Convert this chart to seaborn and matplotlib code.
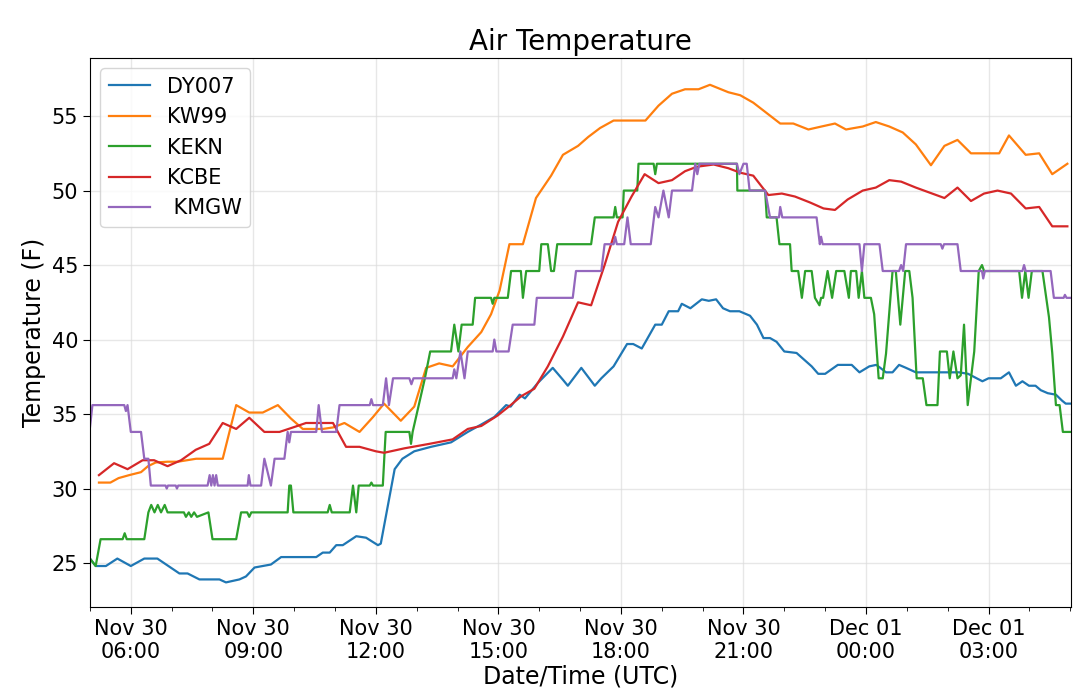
import pandas as pd
import numpy as np
import matplotlib
matplotlib.use("Agg")
import matplotlib.pyplot as plt
import matplotlib.dates as mdates
import seaborn as sns

# hours since Nov 30 00:00 UTC, temperature in F
dy007_hours = [5.0, 5.14, 5.39, 5.67, 6.0, 6.33, 6.65, 7.19, 7.39, 7.68, 8.17, 8.33, 8.66, 8.82,
               9.03, 9.23, 9.43, 9.68, 10.54, 10.70, 10.87, 11.03, 11.19, 11.52, 11.76, 12.05,
               12.12, 12.46, 12.65, 12.94, 13.35, 13.84, 14.25, 14.58, 14.9, 15.19, 15.3, 15.52,
               15.65, 15.97, 16.33, 16.58, 16.70, 17.03, 17.36, 17.52, 17.82, 18.15, 18.3,
               18.51, 18.84, 19.0, 19.17, 19.4, 19.49, 19.7, 19.98, 20.15, 20.33, 20.5, 20.67,
               20.9, 21.16, 21.33, 21.49, 21.65, 21.81, 22.0, 22.30, 22.67, 22.83, 23.0, 23.31,
               23.65, 23.84, 24.08, 24.25, 24.35, 24.49, 24.65, 24.81, 24.98, 25.22, 26.28,
               26.5, 26.85, 27.0, 27.30, 27.5, 27.67, 27.83, 27.99, 28.15, 28.28, 28.45, 28.65,
               28.8, 28.89, 29.02]
dy007_temp = [25.3, 24.8, 24.8, 25.3, 24.8, 25.3, 25.3, 24.3, 24.3, 23.9, 23.9, 23.7, 23.9, 24.1,
              24.7, 24.8, 24.9, 25.4, 25.4, 25.7, 25.7, 26.2, 26.2, 26.8, 26.7, 26.2,
              26.3, 31.3, 32.0, 32.5, 32.8, 33.1, 33.8, 34.3, 34.8, 35.6, 35.5, 36.3,
              36.05, 37.1, 38.1, 37.3, 36.9, 38.1, 36.9, 37.4, 38.2, 39.7, 39.7,
              39.4, 41.0, 41.0, 41.9, 41.9, 42.4, 42.1, 42.7, 42.6, 42.7, 42.1, 41.9,
              41.9, 41.6, 41.0, 40.1, 40.1, 39.85, 39.2, 39.1, 38.2, 37.7, 37.7, 38.3,
              38.3, 37.8, 38.2, 38.3, 38.1, 37.8, 37.8, 38.3, 38.1, 37.8, 37.8,
              37.7, 37.2, 37.4, 37.4, 37.8, 36.9, 37.2, 36.9, 36.9, 36.6, 36.4, 36.3,
              35.9, 35.7, 35.7]

kw99_hours = [5.22, 5.5, 5.7, 5.96, 6.25, 6.42, 6.61, 6.9, 7.15, 7.6, 8.25, 8.58, 8.9, 9.23,
              9.6, 9.92, 10.21, 10.7, 10.95, 11.23, 11.6, 11.93, 12.2, 12.61, 12.94, 13.23,
              13.55, 13.88, 14.25, 14.58, 14.82, 15.03, 15.27, 15.6, 15.92, 16.29, 16.58,
              16.95, 17.2, 17.49, 17.82, 18.6, 18.92, 19.25, 19.57, 19.9, 20.18, 20.63,
              20.92, 21.24, 21.57, 21.9, 22.22, 22.59, 22.91, 23.24, 23.51, 23.92, 24.24,
              24.57, 24.9, 25.22, 25.59, 25.92, 26.24, 26.57, 27.26, 27.5, 27.91, 28.24,
              28.56, 28.93]
kw99_temp = [30.4, 30.4, 30.7, 30.9, 31.1, 31.5, 31.75, 31.8, 31.8, 32.0, 32.0, 35.6, 35.1, 35.1,
             35.6, 34.7, 34.0, 34.0, 34.1, 34.4, 33.8, 34.8, 35.7, 34.55, 35.5, 38.1,
             38.4, 38.2, 39.5, 40.5, 41.7, 43.3, 46.4, 46.4, 49.5, 51.0, 52.4,
             53.0, 53.6, 54.2, 54.7, 54.7, 55.7, 56.5, 56.8, 56.8, 57.1, 56.6,
             56.4, 55.9, 55.2, 54.5, 54.5, 54.1, 54.3, 54.5, 54.1, 54.3, 54.6,
             54.3, 53.9, 53.1, 51.7, 53.0, 53.4, 52.5, 52.5, 53.7, 52.4, 52.5,
             51.1, 51.8]

kekn_hours = [5.0, 5.14, 5.26, 5.8, 5.85, 5.9, 6.33, 6.43, 6.5, 6.58, 6.66, 6.74, 6.83, 6.9,
              7.3, 7.35, 7.42, 7.48, 7.55, 7.62, 7.9, 8.0, 8.58, 8.7, 8.85, 8.9, 8.95, 9.84,
              9.88, 9.92, 9.98, 10.82, 10.87, 10.92, 11.36, 11.44, 11.52, 11.58, 11.85, 11.89,
              11.93, 12.17, 12.24, 12.82, 12.86, 12.9, 13.05, 13.2, 13.33, 13.84, 13.92,
              14.02, 14.1, 14.37, 14.43, 14.82, 14.86, 14.9, 15.23, 15.31, 15.55, 15.6,
              15.68, 16.0, 16.05, 16.21, 16.29, 16.36, 16.44, 17.27, 17.36, 17.82, 17.86,
              17.9, 18.04, 18.07, 18.4, 18.43, 18.8, 18.84, 18.88, 20.84, 20.85, 21.53, 21.57,
              21.81, 21.88, 22.14, 22.18, 22.34, 22.43, 22.51, 22.67, 22.75, 22.86, 22.9,
              22.95, 23.06, 23.17, 23.27, 23.47, 23.58, 23.63, 23.76, 23.82, 23.9, 23.96,
              24.12, 24.2, 24.31, 24.41, 24.49, 24.65, 24.73, 24.84, 24.96, 25.06, 25.14,
              25.24, 25.39, 25.48, 25.75, 25.81, 25.98, 26.05, 26.14, 26.24, 26.32, 26.4,
              26.49, 26.65, 26.76, 26.84, 26.89, 27.75, 27.82, 27.9, 27.98, 28.06, 28.32,
              28.48, 28.56, 28.65, 28.74, 28.82, 29.02]
kekn_temp = [25.3, 24.8, 26.6, 26.6, 27.0, 26.6, 26.6, 28.4, 28.9, 28.4, 28.9, 28.4, 28.9, 28.4,
             28.4, 28.1, 28.4, 28.1, 28.4, 28.1, 28.4, 26.6, 26.6, 28.4, 28.4, 28.1, 28.4, 28.4,
             30.2, 30.2, 28.4, 28.4, 28.9, 28.4, 28.4, 30.2, 28.4, 30.2, 30.2, 30.4,
             30.2, 30.2, 33.8, 33.8, 33.0, 33.8, 35.6, 37.4, 39.2, 39.2, 41.0,
             39.2, 41.0, 41.0, 42.8, 42.8, 42.4, 42.8, 42.8, 44.6, 44.6, 42.8,
             44.6, 44.6, 46.4, 46.4, 44.6, 44.6, 46.4, 46.4, 48.2, 48.2, 48.9,
             48.2, 48.2, 50.0, 50.0, 51.8, 51.8, 51.1, 51.8, 51.8, 50.0, 50.0, 48.2,
             48.2, 46.4, 46.4, 44.6, 44.6, 42.8, 44.6, 44.6, 42.8, 42.3, 42.8,
             42.8, 44.6, 42.8, 44.6, 44.6, 42.8, 44.6, 44.6, 42.8, 44.6, 42.8,
             42.8, 41.7, 37.4, 37.4, 39.05, 44.6, 44.6, 41.0, 44.6, 44.6, 42.8,
             37.4, 37.4, 35.6, 35.6, 39.2, 39.2, 37.4, 39.2, 37.4, 37.6, 41.0,
             35.6, 39.2, 44.6, 45.0, 44.6, 44.6, 42.8, 44.6, 42.8, 44.6, 44.6,
             41.5, 39.1, 35.6, 35.6, 33.8, 33.8]

kcbe_hours = [5.22, 5.59, 5.92, 6.29, 6.57, 6.9, 7.23, 7.59, 7.92, 8.25, 8.58, 8.9, 9.27, 9.64,
              9.97, 10.29, 10.95, 11.27, 11.6, 12.0, 12.2, 12.7, 13.31, 13.88, 14.25, 14.58,
              14.98, 15.3, 15.56, 15.88, 16.21, 16.58, 16.95, 17.27, 17.6, 17.93, 18.26,
              18.58, 18.92, 19.25, 19.57, 19.86, 20.27, 20.63, 20.92, 21.24, 21.41, 21.61,
              21.94, 22.26, 22.63, 22.96, 23.24, 23.55, 23.92, 24.24, 24.57, 24.86, 25.22,
              25.92, 26.24, 26.57, 26.89, 27.22, 27.55, 27.91, 28.24, 28.56, 28.93]
kcbe_temp = [30.9, 31.7, 31.3, 31.9, 31.9, 31.5, 31.9, 32.6, 33.0, 34.4, 34.0, 34.75, 33.8, 33.8,
             34.1, 34.4, 34.4, 32.8, 32.8, 32.5, 32.4, 32.7, 33.0, 33.3, 34.0, 34.2,
             34.9, 35.6, 36.2, 36.7, 38.2, 40.2, 42.5, 42.3, 45.0, 47.9, 49.6,
             51.1, 50.5, 50.7, 51.3, 51.6, 51.75, 51.5, 51.2, 51.0, 50.4, 49.7,
             49.8, 49.6, 49.2, 48.8, 48.7, 49.4, 50.0, 50.2, 50.7, 50.6, 50.2,
             49.5, 50.2, 49.3, 49.8, 50.0, 49.8, 48.8, 48.9, 47.6, 47.6]

kmgw_hours = [5.0, 5.06, 5.84, 5.88, 5.92, 6.0, 6.25, 6.33, 6.43, 6.49, 6.85, 6.88, 6.91, 7.1,
              7.13, 7.16, 7.88, 7.93, 7.97, 8.01, 8.05, 8.09, 8.13, 8.86, 8.89, 8.93, 9.19,
              9.27, 9.43, 9.52, 9.76, 9.84, 9.88, 9.92, 10.54, 10.6, 10.68, 11.03, 11.11,
              11.85, 11.89, 11.93, 12.17, 12.25, 12.32, 12.42, 12.82, 12.87, 12.92, 13.88,
              13.92, 13.97, 14.07, 14.17, 14.25, 14.86, 14.9, 14.95, 15.25, 15.35, 15.88,
              15.94, 16.82, 16.9, 17.52, 17.6, 17.82, 17.86, 17.9, 18.08, 18.16, 18.24,
              18.73, 18.84, 18.92, 19.04, 19.17, 19.25, 19.74, 19.82, 19.87, 19.92, 20.84,
              20.9, 21.0, 21.08, 21.15, 21.53, 21.65, 21.87, 21.9, 21.95, 22.79, 22.87,
              22.9, 22.94, 23.84, 23.9, 23.96, 24.33, 24.41, 24.81, 24.86, 24.91, 24.98,
              25.83, 25.87, 25.91, 26.24, 26.32, 26.84, 26.87, 26.91, 27.83, 27.87, 27.91,
              28.52, 28.6, 28.84, 28.87, 28.91, 29.02]
kmgw_temp = [34.1, 35.6, 35.6, 35.2, 35.6, 33.8, 33.8, 32.0, 32.0, 30.2, 30.2, 30.0, 30.2, 30.2,
             30.0, 30.2, 30.2, 30.9, 30.2, 30.9, 30.2, 30.9, 30.2, 30.2, 30.9, 30.2, 30.2,
             32.0, 30.2, 32.0, 32.0, 33.8, 33.1, 33.8, 33.8, 35.6, 33.8, 33.8, 35.6,
             35.6, 36.0, 35.6, 35.6, 37.4, 35.6, 37.4, 37.4, 37.0, 37.4, 37.4,
             38.0, 37.4, 39.2, 37.4, 39.2, 39.2, 40.0, 39.2, 39.2, 41.0, 41.0,
             42.8, 42.8, 44.6, 44.6, 46.4, 46.4, 46.9, 46.4, 46.4, 48.2, 46.4,
             46.4, 48.9, 48.2, 50.0, 48.2, 50.0, 50.0, 51.8, 51.1, 51.8, 51.8,
             51.1, 51.8, 51.8, 50.0, 50.0, 48.2, 48.2, 48.9, 48.2, 48.2, 46.4,
             46.9, 46.4, 46.4, 44.6, 46.4, 46.4, 44.6, 44.6, 45.0, 44.6, 46.4,
             46.4, 46.1, 46.4, 46.4, 44.6, 44.6, 44.1, 44.6, 44.6, 45.0, 44.6,
             44.6, 42.8, 42.8, 43.0, 42.8, 42.8]

station_names = ["DY007", "KW99", "KEKN", "KCBE", " KMGW"]
station_hours = [dy007_hours, kw99_hours, kekn_hours, kcbe_hours, kmgw_hours]
station_temps = [dy007_temp, kw99_temp, kekn_temp, kcbe_temp, kmgw_temp]

start = pd.Timestamp("2019-11-30 00:00")

fig = plt.figure(figsize=(10.8, 6.96), dpi=100)
ax = fig.add_axes([0.0833, 0.1279, 0.9084, 0.7888])

colors = sns.color_palette("tab10", 5)
for name, hrs, temps, col in zip(station_names, station_hours, station_temps, colors):
    df = pd.DataFrame({
        "time": start + pd.to_timedelta(hrs, unit="h"),
        "temp": temps,
    })
    sns.lineplot(data=df, x="time", y="temp", ax=ax, color=col, label=name,
                 linewidth=1.6, estimator=None, sort=False)

ax.set_xlim(start + pd.Timedelta(hours=5), start + pd.Timedelta(hours=29.02))
ax.set_ylim(22.05, 58.9)

ax.xaxis.set_major_locator(mdates.HourLocator(byhour=range(0, 24, 3)))
ax.xaxis.set_minor_locator(mdates.HourLocator())
ax.xaxis.set_major_formatter(mdates.DateFormatter("%b %d\n%H:%M"))
ax.grid(True, color="#dddddd", alpha=0.7, linewidth=1)
ax.tick_params(axis="both", which="major", labelsize=15, length=5)
ax.tick_params(axis="x", which="minor", length=3)

ax.set_title("Air Temperature", fontsize=20)
ax.set_xlabel("Date/Time (UTC)", fontsize=17, labelpad=2)
ax.set_ylabel("Temperature (F)", fontsize=17)
ax.legend(loc="upper left", fontsize=15)

fig.savefig("out.png", dpi=100)
